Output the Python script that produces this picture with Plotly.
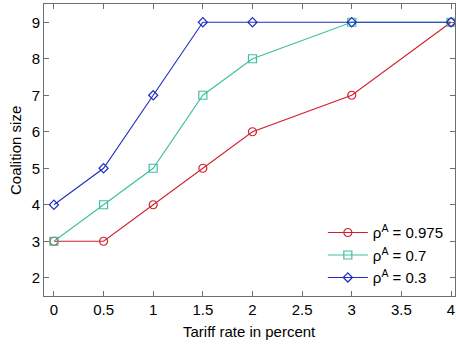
import plotly.graph_objects as go

tariff = [0, 0.5, 1, 1.5, 2, 3, 4]
size_0975 = [3, 3, 4, 5, 6, 7, 9]
size_07 = [3, 4, 5, 7, 8, 9, 9]
size_03 = [4, 5, 7, 9, 9, 9, 9]
names = ["ρ<sup>A</sup> = 0.975", "ρ<sup>A</sup> = 0.7", "ρ<sup>A</sup> = 0.3"]
x_ticks = [0, 0.5, 1, 1.5, 2, 2.5, 3, 3.5, 4]
x_labels = ["0", "0.5", "1", "1.5", "2", "2.5", "3", "3.5", "4"]
y_ticks = [2, 3, 4, 5, 6, 7, 8, 9]
x_title = "Tariff rate in percent"
y_title = "Coalition size"

fig = go.Figure()
specs = [
    (size_0975, names[0], "#d0202e", "circle-open", 8),
    (size_07, names[1], "#3fbf9f", "square-open", 8),
    (size_03, names[2], "#1f2fbf", "diamond-open", 7),
]
for ys, nm, col, sym, sz in specs:
    fig.add_trace(go.Scatter(
        x=tariff, y=ys, name=nm, mode="lines+markers",
        line=dict(color=col, width=1.1),
        marker=dict(symbol=sym, size=sz, color=col, line=dict(width=1.2, color=col)),
    ))

axis_common = dict(
    showline=True, linecolor="#6e6e6e", linewidth=1, mirror="ticks",
    ticks="inside", ticklen=5, tickcolor="#6e6e6e", showgrid=False, zeroline=False,
    automargin=False,
    tickfont=dict(family="Liberation Sans, Arial, sans-serif", size=15, color="#000"),
)
fig.update_xaxes(range=[-0.1, 4.04], tickvals=x_ticks, ticktext=x_labels, **axis_common)
fig.update_yaxes(range=[1.5, 9.5], tickvals=y_ticks, **axis_common)
fig.add_annotation(text=x_title, xref="paper", yref="paper", x=0.5, y=-0.12,
                   xanchor="center", yanchor="middle", showarrow=False,
                   font=dict(size=15, color="#000"))
fig.add_annotation(text=y_title, xref="paper", yref="paper", x=-0.0706, y=0.5,
                   xanchor="center", yanchor="middle", textangle=-90, showarrow=False,
                   font=dict(size=15, color="#000"))
fig.update_layout(
    width=456, height=347,
    margin=dict(l=44, r=1, t=4, b=51, autoexpand=False),
    paper_bgcolor="white", plot_bgcolor="white",
    font=dict(family="Liberation Sans, Arial, sans-serif", size=15, color="#000"),
    legend=dict(x=0.985, y=0.006, xanchor="right", yanchor="bottom",
                bgcolor="rgba(255,255,255,0)", font=dict(size=15), itemwidth=40,
                tracegroupgap=0),
    showlegend=True,
)
fig.write_html("out.html", config={"displayModeBar": False},
               post_script="document.body.style.margin='0';document.body.style.overflow='hidden';")
